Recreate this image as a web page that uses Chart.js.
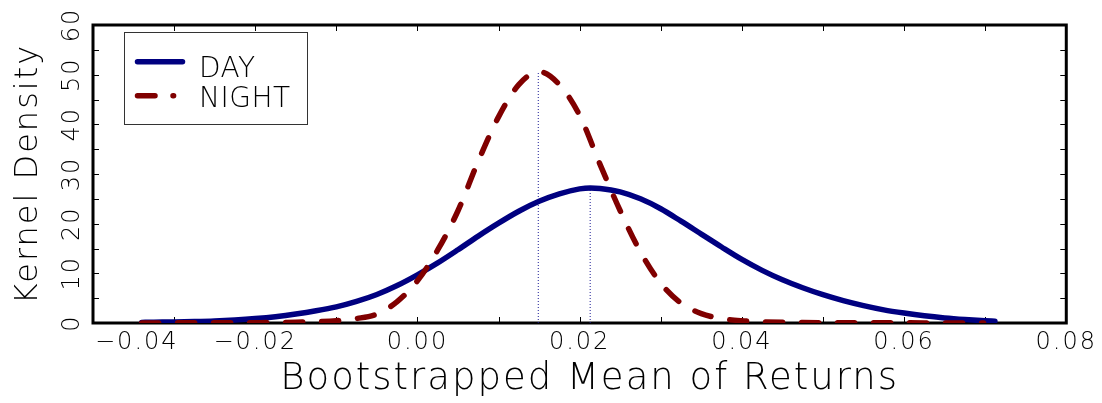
<!DOCTYPE html>
<html>
<head>
<meta charset="utf-8">
<script src="https://cdn.jsdelivr.net/npm/chart.js@4.4.1/dist/chart.umd.min.js"></script>
<style>
  html, body { margin: 0; padding: 0; background: #ffffff; }
  #wrap { width: 1102px; height: 403px; }
</style>
</head>
<body>
<div id="wrap"><canvas id="c" width="1102" height="403"></canvas></div>
<script>
// ---------- data ----------
const seriesNames = ['DAY', 'NIGHT'];

const dayReturns = [-0.034, -0.0325, -0.030, -0.0275, -0.025, -0.0225, -0.020, -0.0175, -0.015, -0.0125,
  -0.010, -0.0075, -0.005, -0.0025, 0.000, 0.0025, 0.005, 0.0075, 0.010, 0.0125,
  0.015, 0.0175, 0.020, 0.0213, 0.0225, 0.025, 0.0275, 0.030, 0.0325, 0.035,
  0.0375, 0.040, 0.0425, 0.045, 0.0475, 0.050, 0.0525, 0.055, 0.0575, 0.060,
  0.0625, 0.065, 0.0675, 0.070, 0.0712];
const dayDensity = [0.12, 0.16, 0.22, 0.30, 0.42, 0.62, 0.90, 1.28, 1.80, 2.45,
  3.25, 4.35, 5.75, 7.55, 9.70, 12.10, 14.75, 17.5, 20.1, 22.5,
  24.5, 26.0, 27.0, 27.2, 27.1, 26.4, 25.0, 23.0, 20.5, 17.9,
  15.3, 12.8, 10.6, 8.7, 7.1, 5.7, 4.5, 3.5, 2.65, 2.0,
  1.45, 1.02, 0.70, 0.45, 0.36];

const nightReturns = [-0.034, -0.0325, -0.030, -0.0275, -0.025, -0.0225, -0.020, -0.0175, -0.015, -0.0125,
  -0.010, -0.0075, -0.005, -0.0025, 0.000, 0.0025, 0.005, 0.0075, 0.010, 0.0125,
  0.015, 0.0175, 0.020, 0.0225, 0.025, 0.0275, 0.030, 0.0325, 0.035, 0.0375,
  0.040, 0.0425, 0.045, 0.0475, 0.050, 0.0525, 0.055, 0.0575, 0.060, 0.0625,
  0.065, 0.0675, 0.0698];
const nightDensity = [0.02, 0.02, 0.03, 0.03, 0.04, 0.05, 0.07, 0.1, 0.15, 0.25,
  0.45, 0.9, 1.8, 4.3, 8.5, 14.7, 22.6, 32.6, 41.5, 48.0,
  50.6, 48.0, 41.8, 32.0, 22.6, 14.3, 8.0, 4.0, 1.9, 0.9,
  0.45, 0.25, 0.15, 0.1, 0.07, 0.05, 0.04, 0.03, 0.03, 0.02,
  0.02, 0.02, 0.02];

// mean of each bootstrap distribution and the density at that mean (dotted markers)
const meanReturn = [0.0213, 0.0149];
const densityAtMean = [27.2, 50.6];

// axes
const xRange = [-0.04, 0.08];
const xStep = 0.01;
const yRange = [0, 60];
const yStep = 5;

// ---------- styling ----------
const FAMILY = "'DejaVu Sans', 'Liberation Sans', sans-serif";
const WEIGHT = '200';
const DAY_COLOR = '#000080';
const NIGHT_COLOR = '#800000';
const MEAN_COLOR = '#1c1c96';
const LS = '2px';

function toPoints(xs, ys) { return xs.map((v, i) => ({ x: v, y: ys[i] })); }
function fmtX(v) {
  const k = Math.round(v * 100);
  if (k % 2 !== 0 || k === -4) return '';
  return (k < 0 ? '\u2212' : '') + (Math.abs(k) / 100).toFixed(2);
}

const letterSpacingPlugin = {
  id: 'letterSpacing',
  beforeLayout(chart) { chart.ctx.letterSpacing = LS; },
  beforeDraw(chart) { chart.ctx.letterSpacing = LS; }
};

// the reference's x-axis title sits slightly right of the plot centre
const titleShiftPlugin = {
  id: 'titleShift',
  afterLayout(chart) {
    const x = chart.scales.x;
    x.left += 10;
    x.right += 10;
  }
};

const framePlugin = {
  id: 'frameTicks',
  beforeDatasetsDraw(chart) {
    const { ctx, chartArea: a, scales: { x, y } } = chart;
    ctx.save();
    ctx.strokeStyle = '#000';
    ctx.lineWidth = 1;
    ctx.beginPath();
    x.ticks.forEach(t => {
      const px = Math.round(x.getPixelForValue(t.value)) + 0.5;
      ctx.moveTo(px, a.bottom); ctx.lineTo(px, a.bottom - 6);
      ctx.moveTo(px, a.top); ctx.lineTo(px, a.top + 6);
    });
    y.ticks.forEach(t => {
      const py = Math.round(y.getPixelForValue(t.value)) + 0.5;
      ctx.moveTo(a.left, py); ctx.lineTo(a.left + 6, py);
      ctx.moveTo(a.right, py); ctx.lineTo(a.right - 6, py);
    });
    ctx.stroke();
    ctx.lineWidth = 3;
    ctx.strokeRect(a.left, a.top, a.right - a.left, a.bottom - a.top);
    ctx.restore();
  },
  afterDraw(chart) {
    const { ctx, chartArea: a, scales: { x } } = chart;
    ctx.save();
    // first x tick label, left-aligned on its tick as in the reference
    ctx.letterSpacing = LS;
    ctx.font = WEIGHT + ' 24px ' + FAMILY;
    ctx.fillStyle = '#000';
    ctx.textAlign = 'left';
    ctx.textBaseline = 'middle';
    const v0 = xRange[0];
    ctx.fillText('\u2212' + Math.abs(v0).toFixed(2), x.getPixelForValue(v0) + 2, x.top + 5 + 24 * 1.2 / 2);

    // legend box
    const lx = a.left + 31, ly = a.top + 7;
    ctx.lineWidth = 1;
    ctx.strokeStyle = '#333';
    ctx.strokeRect(lx + 0.5, ly + 0.5, 183, 92);
    const ds = chart.data.datasets;
    ctx.lineCap = 'round';
    // DAY
    ctx.strokeStyle = ds[0].borderColor;
    ctx.lineWidth = ds[0].borderWidth;
    ctx.beginPath();
    ctx.moveTo(a.left + 44.5, a.top + 36.7); ctx.lineTo(a.left + 89.5, a.top + 36.7);
    ctx.stroke();
    // NIGHT (dash then dot)
    ctx.strokeStyle = ds[1].borderColor;
    ctx.lineWidth = ds[1].borderWidth;
    ctx.beginPath();
    ctx.moveTo(a.left + 44.5, a.top + 70.7); ctx.lineTo(a.left + 62, a.top + 70.7);
    ctx.moveTo(a.left + 80, a.top + 70.7); ctx.lineTo(a.left + 80.6, a.top + 70.7);
    ctx.stroke();
    ctx.letterSpacing = '0.5px';
    ctx.font = WEIGHT + ' 28px ' + FAMILY;
    ctx.fillStyle = '#000';
    ctx.textBaseline = 'alphabetic';
    ctx.fillText(ds[0].label, a.left + 106, a.top + 52);
    ctx.fillText(ds[1].label, a.left + 106, a.top + 82);
    ctx.restore();
  }
};

new Chart(document.getElementById('c'), {
  type: 'line',
  data: {
    datasets: [
      {
        label: seriesNames[0],
        data: toPoints(dayReturns, dayDensity),
        borderColor: DAY_COLOR,
        borderWidth: 5.5,
        pointRadius: 0,
        cubicInterpolationMode: 'monotone',
        borderCapStyle: 'round',
        borderJoinStyle: 'round',
        fill: false,
        order: 1
      },
      {
        label: seriesNames[1],
        data: toPoints(nightReturns, nightDensity),
        borderColor: NIGHT_COLOR,
        borderWidth: 5.5,
        borderDash: [17, 19],
        borderCapStyle: 'round',
        borderJoinStyle: 'round',
        pointRadius: 0,
        cubicInterpolationMode: 'monotone',
        fill: false,
        order: 0
      },
      {
        label: seriesNames[0] + ' mean',
        data: [{ x: meanReturn[0], y: 0 }, { x: meanReturn[0], y: densityAtMean[0] }],
        borderColor: MEAN_COLOR,
        borderWidth: 1,
        borderDash: [1, 2],
        pointRadius: 0,
        fill: false,
        order: 2
      },
      {
        label: seriesNames[1] + ' mean',
        data: [{ x: meanReturn[1], y: 0 }, { x: meanReturn[1], y: densityAtMean[1] }],
        borderColor: MEAN_COLOR,
        borderWidth: 1,
        borderDash: [1, 2],
        pointRadius: 0,
        fill: false,
        order: 2
      }
    ]
  },
  options: {
    responsive: false,
    animation: false,
    devicePixelRatio: 1,
    layout: { padding: { left: 0, right: 34, top: 25, bottom: 0 } },
    plugins: { legend: { display: false }, tooltip: { enabled: false } },
    scales: {
      x: {
        type: 'linear',
        min: xRange[0], max: xRange[1],
        grid: { display: false, drawTicks: false },
        border: { display: false },
        ticks: {
          stepSize: xStep, autoSkip: false, maxRotation: 0, minRotation: 0,
          padding: 5, color: '#000',
          font: { family: FAMILY, size: 24, weight: WEIGHT },
          callback: (v) => fmtX(v)
        },
        title: {
          display: true, text: 'Bootstrapped Mean of Returns', color: '#000',
          font: { family: FAMILY, size: 37, weight: WEIGHT },
          padding: { top: 0, bottom: 1 }
        },
        afterFit: (s) => { s.height = 80; }
      },
      y: {
        min: yRange[0], max: yRange[1],
        grid: { display: false, drawTicks: false },
        border: { display: false },
        ticks: {
          stepSize: yStep, autoSkip: false, minRotation: 90, maxRotation: 90,
          crossAlign: 'center', padding: 3, color: '#000',
          font: { family: FAMILY, size: 24, weight: WEIGHT },
          callback: (v) => (v % 10 === 0 ? String(v) : '')
        },
        title: {
          display: true, text: 'Kernel Density', color: '#000',
          font: { family: FAMILY, size: 32, weight: WEIGHT },
          padding: { top: 9, bottom: 0 }
        },
        afterFit: (s) => { s.width = 93; }
      }
    }
  },
  plugins: [letterSpacingPlugin, titleShiftPlugin, framePlugin]
});
</script>
</body>
</html>
